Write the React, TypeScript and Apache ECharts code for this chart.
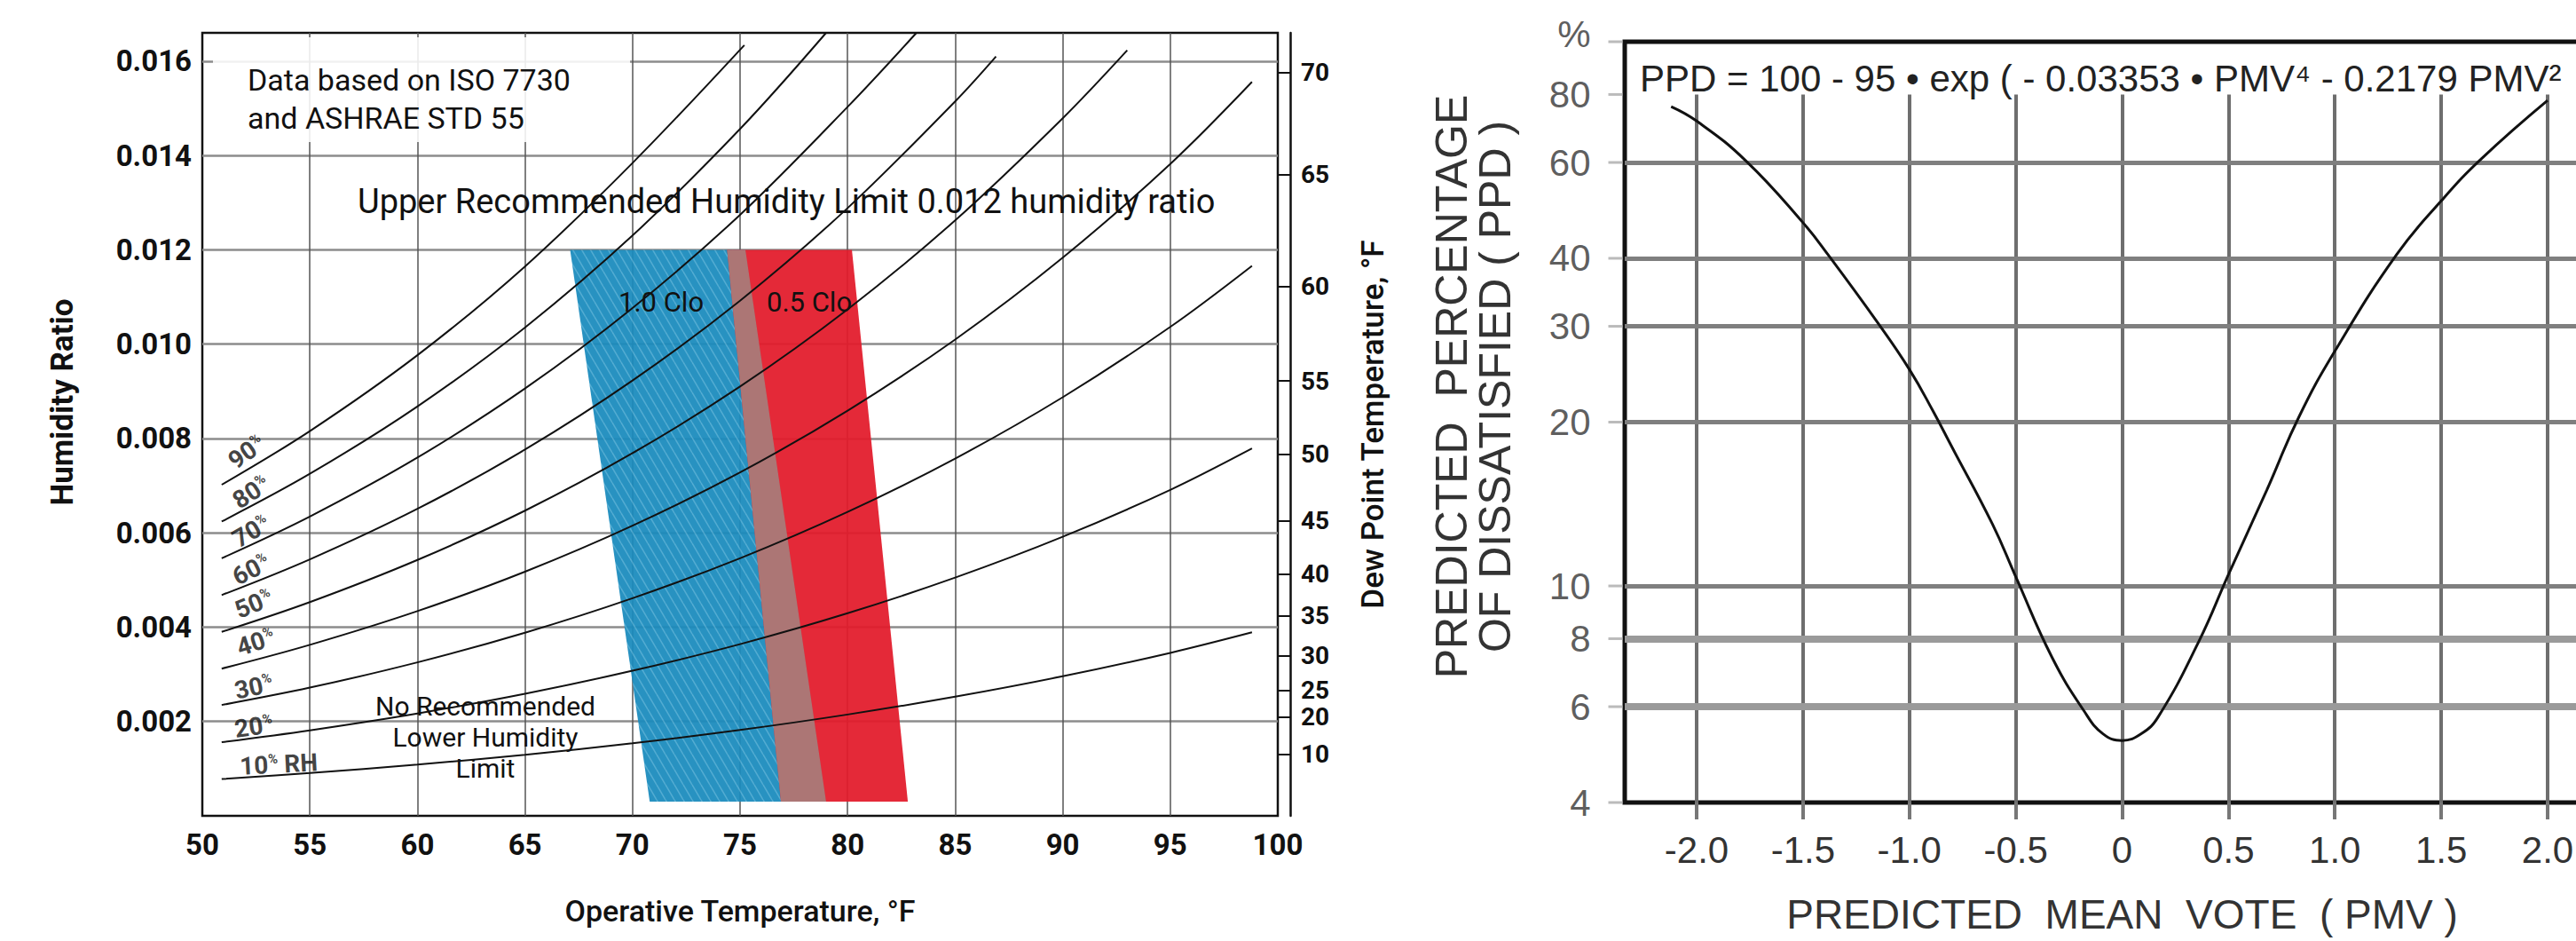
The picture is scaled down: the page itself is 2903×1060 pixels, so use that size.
import React, { useEffect, useRef } from "react";
import * as echarts from "echarts";

// ---------------- Left chart data (comfort zone / psychrometric) ----------------
const humidityRatioTicks = [0.002, 0.004, 0.006, 0.008, 0.01, 0.012, 0.014, 0.016];
const dewPointLabels = ["10", "20", "25", "30", "35", "40", "45", "50", "55", "60", "65", "70"];
const dewPointRatios = [0.0013, 0.00209, 0.00266, 0.00339, 0.00424, 0.00513, 0.00626, 0.00767, 0.00922, 0.01123, 0.01359, 0.01576];

const rh10: [number, number][] = [[50.9, 0.00078], [55, 0.000906], [60, 0.001085], [65, 0.001294], [70, 0.001537], [75, 0.00182], [80, 0.002148], [85, 0.002525], [90, 0.002958], [95, 0.003455], [98.8, 0.00389]];
const rh20: [number, number][] = [[50.9, 0.00156], [55, 0.001813], [60, 0.00217], [65, 0.002588], [70, 0.003076], [75, 0.00364], [80, 0.004295], [85, 0.00505], [90, 0.005916], [95, 0.006911], [98.8, 0.00779]];
const rh30: [number, number][] = [[50.9, 0.00235], [55, 0.002718], [60, 0.003254], [65, 0.003882], [70, 0.004613], [75, 0.005461], [80, 0.006443], [85, 0.007574], [90, 0.008874], [95, 0.010365], [98.8, 0.01166]];
const rh40: [number, number][] = [[50.9, 0.00312], [55, 0.003625], [60, 0.00434], [65, 0.005176], [70, 0.006152], [75, 0.007281], [80, 0.00859], [85, 0.010098], [90, 0.011833], [95, 0.01382], [98.8, 0.01556]];
const rh50: [number, number][] = [[50.9, 0.0039], [55, 0.004531], [60, 0.005425], [65, 0.00647], [70, 0.007689], [75, 0.009102], [80, 0.010738], [85, 0.012624], [90, 0.014789], [93, 0.01623]];
const rh60: [number, number][] = [[50.9, 0.00468], [55, 0.005438], [60, 0.006509], [65, 0.007764], [70, 0.009228], [75, 0.010922], [80, 0.012885], [85, 0.015147], [86.9, 0.0161]];
const rh70: [number, number][] = [[50.9, 0.00546], [55, 0.006345], [60, 0.007595], [65, 0.009059], [70, 0.010766], [75, 0.012742], [80, 0.015031], [83.2, 0.0166]];
const rh80: [number, number][] = [[50.9, 0.00624], [55, 0.007251], [60, 0.00868], [65, 0.010353], [70, 0.012303], [75, 0.014562], [79, 0.0166]];
const rh90: [number, number][] = [[50.9, 0.00702], [55, 0.008157], [60, 0.009765], [65, 0.011647], [70, 0.013841], [75.2, 0.01634]];
const rhCurves = [rh10, rh20, rh30, rh40, rh50, rh60, rh70, rh80, rh90];
const rhCurveNames = ["10% RH", "20%", "30%", "40%", "50%", "60%", "70%", "80%", "90%"];

const rhLabelTexts = ["90", "80", "70", "60", "50", "40", "30", "20", "10"];
const rhLabelTemps = [52.06, 52.27, 52.27, 52.27, 52.39, 52.48, 52.39, 52.39, 53.55];
const rhLabelRatios = [0.00771, 0.00686, 0.00603, 0.00522, 0.00449, 0.00368, 0.00273, 0.00189, 0.00109];
const rhLabelAngles = [35, 33, 30, 27, 22, 18, 12, 8, 3];

const clo10Temps = [67.1, 75.25, 79.0, 70.8];
const clo10Ratios = [0.012, 0.012, 0.0003, 0.0003];
const clo05Temps = [74.4, 80.2, 82.8, 76.9];
const clo05Ratios = [0.012, 0.012, 0.0003, 0.0003];

// ---------------- Right chart data (PPD vs PMV) ----------------
const pmvTicks = [-2, -1.5, -1, -0.5, 0, 0.5, 1, 1.5, 2];
const ppdTicks = [4, 6, 8, 10, 20, 30, 40, 60, 80, 100];
const ppdGridLines = [6, 8, 10, 20, 30, 40, 60];
const pmvValues = [-2.12, -2.0, -1.77, -1.5, -1.38, -1.15, -1.0, -0.89, -0.8, -0.61, -0.5, -0.33, -0.18, -0.09, 0, 0.09, 0.17, 0.36, 0.5, 0.68, 0.83, 1.0, 1.29, 1.5, 1.69, 2.0];
const ppdValues = [76, 71.5, 60.5, 46.5, 40.5, 30.5, 25.0, 21.0, 18.0, 13.0, 10.4, 7.4, 5.9, 5.35, 5.2, 5.35, 5.75, 7.9, 10.5, 15.0, 20.4, 27.0, 40.6, 51, 61, 78];
const pmvMin = -2.338;
const pmvMax = 2.338;

const LEFT_FONT = "Roboto, 'Open Sans', sans-serif";
const RIGHT_FONT = "'Liberation Sans', Arial, sans-serif";

function makeHatch(): any {
  const c = document.createElement("canvas");
  c.width = 10;
  c.height = 17;
  const g = c.getContext("2d");
  if (!g) return "#1c8dbf";
  g.fillStyle = "#1b8bbd";
  g.fillRect(0, 0, 10, 17);
  g.strokeStyle = "rgba(110,190,222,0.55)";
  g.lineWidth = 1.6;
  for (const k of [-10, 0, 10]) {
    g.beginPath();
    g.moveTo(k, 0);
    g.lineTo(k + 10, 17);
    g.stroke();
  }
  return { image: c, repeat: "repeat" };
}

function polygonSeries(name: string, temps: number[], ratios: number[], fill: any, z: number) {
  return {
    type: "custom",
    name,
    xAxisIndex: 0,
    yAxisIndex: 0,
    silent: true,
    z,
    data: temps.map((t, i) => [t, ratios[i]]),
    renderItem: (params: any, api: any) => {
      if (params.dataIndex !== 0) return { type: "group", children: [] };
      const pts = temps.map((t, i) => api.coord([t, ratios[i]]));
      return { type: "polygon", shape: { points: pts }, style: { fill, opacity: 0.94 } };
    },
  };
}

export default function App() {
  const ref = useRef<HTMLDivElement>(null);
  useEffect(() => {
    if (!ref.current) return;
    const chart = echarts.init(ref.current, undefined, { renderer: "svg" });
    const overlapTemps = [clo05Temps[0], clo10Temps[1], clo10Temps[2], clo05Temps[3]];
    const overlapRatios = [clo05Ratios[0], clo10Ratios[1], clo10Ratios[2], clo05Ratios[3]];

    const option: any = {
      animation: false,
      backgroundColor: "#ffffff",
      grid: [
        { left: 228, top: 37, width: 1212, height: 882, show: true, borderColor: "#111", borderWidth: 2.5, backgroundColor: "transparent" },
        { left: 1831, top: 47, width: 1121, height: 857, show: true, borderColor: "#111", borderWidth: 5, backgroundColor: "transparent" },
      ],
      xAxis: [
        {
          gridIndex: 0,
          type: "value",
          min: 50,
          max: 100,
          interval: 5,
          axisLine: { show: false },
          axisTick: { show: false },
          axisLabel: { fontSize: 33, fontWeight: "bold", fontFamily: LEFT_FONT, color: "#111", margin: 16 },
          splitLine: { show: true, showMinLine: false, showMaxLine: false, lineStyle: { color: "#555", width: 1.5 } },
          name: "Operative Temperature, °F",
          nameLocation: "middle",
          nameGap: 90,
          nameTextStyle: { fontSize: 34, fontWeight: 500, fontFamily: LEFT_FONT, color: "#111" },
        },
        {
          gridIndex: 1,
          type: "value",
          min: pmvMin,
          max: pmvMax,
          axisLine: { show: false },
          axisTick: { show: true, customValues: pmvTicks, length: 19, lineStyle: { color: "#777", width: 4 } },
          axisLabel: {
            customValues: pmvTicks,
            formatter: (v: number) => (Math.abs(v) < 1e-9 ? "0" : v.toFixed(1)),
            fontSize: 42,
            fontFamily: RIGHT_FONT,
            color: "#333",
            margin: 32,
          },
          splitLine: { show: false },
          name: "PREDICTED  MEAN  VOTE  ( PMV )",
          nameLocation: "middle",
          nameGap: 103,
          nameTextStyle: { fontSize: 46, fontFamily: RIGHT_FONT, color: "#333" },
        },
      ],
      yAxis: [
        {
          gridIndex: 0,
          type: "value",
          min: 0,
          max: 0.0166,
          interval: 0.002,
          axisLine: { show: false },
          axisTick: { show: false },
          axisLabel: {
            customValues: humidityRatioTicks,
            formatter: (v: number) => v.toFixed(3),
            fontSize: 33,
            fontWeight: "bold",
            fontFamily: LEFT_FONT,
            color: "#111",
            margin: 12,
          },
          splitLine: { show: true, showMinLine: false, showMaxLine: false, lineStyle: { color: "#8c8c8c", width: 2.5 } },
          name: "Humidity Ratio",
          nameLocation: "middle",
          nameRotate: 90,
          nameGap: 140,
          nameTextStyle: { fontSize: 35, fontWeight: "bold", fontFamily: LEFT_FONT, color: "#111", padding: [0, 0, 0, 50] },
        },
        {
          gridIndex: 0,
          type: "value",
          position: "right",
          offset: 14,
          min: 0,
          max: 0.0166,
          axisLine: { show: true, lineStyle: { color: "#111", width: 2.5 } },
          axisTick: { show: true, inside: true, length: 14, customValues: dewPointRatios, lineStyle: { color: "#111", width: 2 } },
          axisLabel: {
            customValues: dewPointRatios,
            formatter: (v: number) => {
              const i = dewPointRatios.findIndex((d) => Math.abs(d - v) < 1e-9);
              return i >= 0 ? dewPointLabels[i] : "";
            },
            fontSize: 28,
            fontWeight: "bold",
            fontFamily: LEFT_FONT,
            color: "#111",
            margin: 12,
          },
          splitLine: { show: false },
          name: "Dew Point Temperature, °F",
          nameLocation: "middle",
          nameRotate: 90,
          nameGap: 76,
          nameTextStyle: { fontSize: 35, fontWeight: 500, fontFamily: LEFT_FONT, color: "#111" },
        },
        {
          gridIndex: 1,
          type: "log",
          logBase: 10,
          min: 4,
          max: 100,
          axisLine: { show: false },
          axisTick: { show: false },
          axisLabel: { show: false },
          splitLine: { show: false },
          name: "PREDICTED  PERCENTAGE\nOF DISSATISFIED ( PPD )",
          nameLocation: "middle",
          nameRotate: 90,
          nameGap: 122,
          nameTextStyle: { fontSize: 50, lineHeight: 49, fontFamily: RIGHT_FONT, color: "#333", padding: [0, 0, 0, 80] },
        },
      ],
      graphic: [
        { type: "rect", z: 10, shape: { x: 240, y: 42, width: 470, height: 118 }, style: { fill: "rgba(255,255,255,0.88)" } },
        {
          type: "text", z: 11, x: 279, y: 111,
          style: { text: "Data based on ISO 7730\nand ASHRAE STD 55", fontSize: 34, lineHeight: 43, fontFamily: LEFT_FONT, fill: "#111", align: "left", verticalAlign: "middle" },
        },
        {
          type: "text", z: 11, x: 403, y: 227,
          style: { text: "Upper Recommended Humidity Limit 0.012 humidity ratio", fontSize: 38, fontFamily: LEFT_FONT, fill: "#111", align: "left", verticalAlign: "middle" },
        },
        { type: "text", z: 11, x: 745, y: 340, style: { text: "1.0 Clo", fontSize: 31, fontFamily: LEFT_FONT, fill: "#111", align: "center", verticalAlign: "middle" } },
        { type: "text", z: 11, x: 912, y: 340, style: { text: "0.5 Clo", fontSize: 31, fontFamily: LEFT_FONT, fill: "#111", align: "center", verticalAlign: "middle" } },
        {
          type: "text", z: 11, x: 547, y: 830,
          style: { text: "No Recommended\nLower Humidity\nLimit", fontSize: 30, lineHeight: 35, fontFamily: LEFT_FONT, fill: "#111", align: "center", verticalAlign: "middle" },
        },
        {
          type: "text", z: 11, x: 1848, y: 88,
          style: { text: "PPD = 100 - 95 • exp ( - 0.03353 • PMV⁴ - 0.2179 PMV²", fontSize: 42, fontFamily: RIGHT_FONT, fill: "#222", align: "left", verticalAlign: "middle" },
        },
      ],
      series: [
        polygonSeries("1.0 Clo", clo10Temps, clo10Ratios, makeHatch(), 1),
        polygonSeries("0.5 Clo", clo05Temps, clo05Ratios, "#e21c2c", 1),
        polygonSeries("Overlap", overlapTemps, overlapRatios, "#a97b79", 2),
        ...rhCurves.map((c, i) => ({
          type: "line",
          name: rhCurveNames[i],
          xAxisIndex: 0,
          yAxisIndex: 0,
          data: c,
          smooth: 0.35,
          showSymbol: false,
          silent: true,
          z: 3,
          lineStyle: { color: "#111", width: 2 },
        })),
        {
          type: "scatter",
          name: "RH labels",
          xAxisIndex: 0,
          yAxisIndex: 0,
          symbolSize: 0,
          silent: true,
          z: 4,
          data: rhLabelTexts.map((t, i) => ({ value: [rhLabelTemps[i], rhLabelRatios[i]], label: { rotate: rhLabelAngles[i] } })),
          label: {
            show: true,
            position: "inside",
            formatter: (p: any) => (p.dataIndex === 8 ? "{n|10}{p|%}{n| RH}" : `{n|${rhLabelTexts[p.dataIndex]}}{p|%}`),
            rich: {
              n: { fontSize: 28, fontWeight: "bold", fontFamily: LEFT_FONT, color: "#111" },
              p: { fontSize: 15, fontWeight: "bold", fontFamily: LEFT_FONT, color: "#111", padding: [0, 0, 13, 0] },
            },
          },
        },
        {
          type: "line",
          name: "PPD grid",
          xAxisIndex: 1,
          yAxisIndex: 2,
          data: [],
          z: 1,
          silent: true,
          markLine: {
            silent: true,
            symbol: ["none", "none"],
            label: { show: false },
            lineStyle: { color: "#6e6e6e", width: 4, type: "solid" },
            data: [
              ...pmvTicks.map((x) => [{ coord: [x, 4] }, { coord: [x, 80] }]),
              ...ppdGridLines.map((v) => ({
                yAxis: v,
                lineStyle: { color: v < 10 ? "#9a9a9a" : "#7f7f7f", width: v < 10 ? 8 : 5, type: "solid" },
              })),
            ],
          },
        },
        {
          type: "line",
          name: "PPD",
          xAxisIndex: 1,
          yAxisIndex: 2,
          data: pmvValues.map((x, i) => [x, ppdValues[i]]),
          smooth: 0.45,
          showSymbol: false,
          silent: true,
          z: 5,
          lineStyle: { color: "#111", width: 3 },
        },
        {
          type: "scatter",
          name: "PPD ticks",
          xAxisIndex: 1,
          yAxisIndex: 2,
          symbol: "rect",
          symbolSize: [16, 3],
          symbolOffset: [-10.5, 0],
          silent: true,
          z: 6,
          itemStyle: { color: "#aaaaaa" },
          data: ppdTicks.map((v) => ({ value: [pmvMin, v], label: v === 100 ? { offset: [0, -9] } : undefined })),
          label: {
            show: true,
            position: "left",
            distance: 20,
            formatter: (p: any) => (p.value[1] === 100 ? "%" : String(p.value[1])),
            fontSize: 42,
            fontFamily: RIGHT_FONT,
            color: "#333",
          },
        },
      ],
    };
    chart.setOption(option);
    return () => chart.dispose();
  }, []);

  return (
    <div style={{ position: "fixed", left: 0, top: 0, width: 2903, height: 1060, overflow: "hidden", background: "#fff" }}>
      <div ref={ref} style={{ width: 2960, height: 1060 }} />
    </div>
  );
}
